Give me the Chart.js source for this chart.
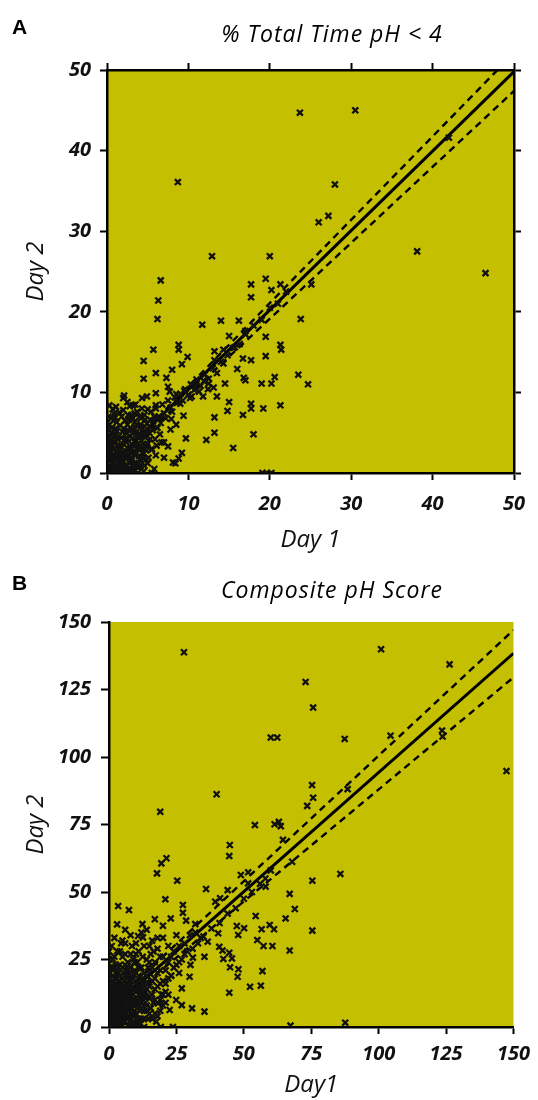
<!DOCTYPE html>
<html>
<head>
<meta charset="utf-8">
<script src="https://cdn.jsdelivr.net/npm/chart.js@4.4.1/dist/chart.umd.min.js"></script>
<style>
    body { margin: 0; background: #fff; }
    .panel { position: absolute; left: 0; width: 538px; }
    #panelA { top: 0; height: 560px; }
    #panelB { top: 560px; height: 540px; }
</style>
</head>
<body>
<div class="panel" id="panelA"><canvas id="chartA" width="538" height="560"></canvas></div>
<div class="panel" id="panelB"><canvas id="chartB" width="538" height="540"></canvas></div>
<script>
// ===== panel A : % total time pH < 4, [day1, day2] =====
const aPoints = [
    // scattered points
    [23.7, 44.7], [8.7, 36.1], [12.9, 26.9], [20.0, 26.9], [30.5, 45.0], [28.0, 35.8], [27.2, 31.9],
    [26.0, 31.1], [38.1, 27.5], [42.0, 41.6], [46.5, 24.8], [25.1, 23.4], [23.8, 19.1], [24.7, 11.0],
    [23.5, 12.2], [6.6, 23.9], [6.3, 21.4], [6.2, 19.1], [17.7, 23.4], [17.7, 21.8], [19.5, 24.1],
    [20.2, 22.7], [21.3, 23.4], [11.7, 18.4], [14.0, 18.9], [16.2, 18.9], [17.0, 17.6], [15.0, 17.0],
    [19.5, 16.9], [8.8, 15.9], [8.8, 15.3], [5.7, 15.3], [13.2, 15.1], [14.3, 15.3], [15.7, 15.6],
    [21.3, 15.9], [21.4, 15.3], [9.9, 14.4], [4.5, 13.9], [9.2, 13.5], [13.2, 14.0], [14.3, 13.6],
    [16.7, 14.2], [17.7, 14.0], [19.5, 14.5], [8.0, 12.8], [6.0, 12.4], [7.3, 11.8], [4.5, 11.7],
    [16.0, 12.9], [16.8, 11.8], [17.0, 11.5], [12.5, 11.1], [14.5, 11.1], [19.0, 11.1], [20.2, 11.1],
    [20.6, 11.9], [7.5, 10.7], [7.7, 10.1], [6.0, 9.9], [13.1, 10.6], [13.5, 9.5], [11.8, 9.5],
    [10.4, 9.5], [2.1, 9.6], [3.2, 8.4], [4.3, 9.3], [4.9, 9.5], [6.0, 8.4], [15.0, 8.8], [14.8, 7.7],
    [17.7, 8.6], [17.7, 8.0], [19.2, 8.0], [21.3, 8.4], [16.7, 7.2], [13.2, 6.9], [9.4, 7.1], [7.9, 6.7],
    [13.2, 5.0], [18.0, 4.8], [12.2, 4.1], [9.7, 4.3], [15.5, 3.1], [6.7, 3.8], [7.5, 3.3], [9.2, 2.5],
    [8.8, 1.8], [8.1, 1.3], [7.0, 1.9], [0.7, 7.9], [0.9, 7.3], [5.5, 0], [19.1, 0], [19.6, 0], [20.2, 0],
    [8.4, 1.2],
    // along the fit line
    [9.5, 10.2], [10.2, 9.3], [10.8, 10.8], [11.3, 10.1], [11.9, 11.4], [12.4, 10.4], [9.0, 8.6], [8.5, 9.8],
    [6.0, 8.0], [6.2, 5.6], [6.4, 7.0], [6.6, 6.2], [6.8, 8.5], [7.0, 7.4], [7.2, 6.8], [7.5, 9.0],
    [7.8, 8.1], [8.0, 7.6], [8.3, 9.4], [8.6, 8.7], [9.0, 9.8], [9.3, 9.0], [9.6, 10.4], [10.0, 9.7],
    [10.3, 11.0], [10.7, 10.3], [11.0, 11.6], [11.5, 10.8], [12.0, 12.2], [12.5, 11.7], [13.0, 13.0],
    [13.5, 12.4], [14.0, 13.8], [14.8, 14.6], [15.5, 15.5], [16.3, 16.0], [17.0, 17.2], [18.0, 18.3],
    [19.0, 19.0], [20.0, 20.5], [21.0, 21.0], [22.0, 22.5],
    // dense cluster near the origin
    [0, 0], [0, 0.5], [0, 1.2], [0, 2], [0, 3], [0, 3.8], [0, 4.5], [0.1, 0.2], [0.2, 0], [0.3, 1.5],
    [0.4, 0.3], [0.5, 0.8], [0.6, 2.2], [0.7, 0.1], [0.8, 1.1], [0.9, 3.1], [1.0, 0.5], [1.1, 1.8],
    [1.2, 2.6], [1.2, 0], [1.3, 4.2], [1.4, 1.2], [1.5, 0.4], [1.6, 3.4], [1.7, 2.0], [1.8, 0.9],
    [1.9, 5.1], [2.0, 1.5], [2.1, 0.2], [2.2, 2.8], [2.3, 3.9], [2.4, 1.0], [2.5, 6.0], [2.6, 2.3],
    [2.7, 0.6], [2.8, 4.6], [2.9, 3.2], [3.0, 1.6], [3.1, 5.4], [3.2, 0.3], [3.3, 2.7], [3.4, 6.3],
    [3.5, 4.0], [3.6, 1.3], [3.7, 3.5], [3.8, 5.8], [3.9, 2.1], [4.0, 4.9], [4.1, 0.8], [4.2, 6.8],
    [4.3, 3.0], [4.4, 5.5], [4.5, 2.4], [4.6, 7.2], [4.7, 4.4], [4.8, 1.7], [4.9, 6.1], [5.0, 3.6],
    [5.2, 5.0], [5.4, 7.6], [5.5, 2.9], [5.7, 6.5], [5.9, 4.2], [1.5, 7.5], [2.5, 8.8], [0.8, 6.5],
    [3.5, 8.5], [2.0, 9.3], [1.0, 5.5], [3.0, 7.2], [0.3, 6.0], [5.5, 3.0], [6.0, 2.2], [5.0, 1.2],
    [6.5, 4.8], [7.0, 3.8], [5.8, 0.5], [4.5, 0.2], [3.8, 0], [3.0, 0], [2.5, 0], [5.2, 5.8], [7.8, 5.4],
    [8.5, 6.0],
    [0.2, 2.5], [0.4, 3.5], [0.5, 5.0], [0.6, 4.0], [0.7, 1.6], [0.8, 2.9], [0.9, 0.6], [1.0, 3.8],
    [1.1, 4.8], [1.2, 1.4], [1.3, 0.2], [1.4, 2.2], [1.5, 3.0], [1.6, 5.9], [1.7, 1.1], [1.8, 4.4],
    [1.9, 2.6], [2.0, 0.3], [2.1, 3.5], [2.2, 6.5], [2.3, 1.8], [2.4, 4.9], [2.5, 2.0], [2.6, 7.2],
    [2.7, 3.0], [2.8, 1.2], [2.9, 5.6], [3.0, 2.5], [3.1, 4.3], [3.2, 6.8], [3.3, 1.0], [3.4, 3.9],
    [3.5, 2.2], [3.6, 5.1], [3.7, 7.6], [3.8, 0.7], [3.9, 4.6], [4.0, 2.9], [4.1, 6.0], [4.2, 1.5],
    [4.3, 8.0], [4.4, 3.6], [4.5, 4.9], [4.6, 0.9], [4.7, 6.6], [4.8, 2.8], [4.9, 5.0], [5.0, 7.9],
    [5.1, 1.9], [5.3, 4.2], [5.6, 5.3], [5.8, 7.0], [6.1, 3.4], [6.3, 6.8], [0.1, 5.5], [0.2, 7.0],
    [0.5, 6.8], [1.2, 6.3], [1.8, 7.0], [0.3, 8.4], [1.1, 8.2], [2.8, 8.3], [0.0, 6.2], [0.6, 0.0],
    [1.7, 0.0], [0.1, 1.8], [0.3, 3.0], [0.1, 4.0], [2.3, 0.9], [3.5, 0.8], [1.6, 1.6], [0.9, 2.2],
    [2.0, 2.2], [2.5, 4.2], [3.0, 3.6], [3.8, 3.0], [4.2, 4.0], [3.3, 5.0], [2.1, 5.5], [1.4, 4.5],
    [0.4, 1.9], [0.6, 5.6], [0.9, 4.4], [1.3, 3.4], [1.6, 0.7], [1.9, 1.9], [2.2, 4.2], [2.4, 0.4],
    [2.6, 5.3], [2.9, 1.9], [3.1, 0.9], [3.3, 3.3], [3.6, 6.0], [3.9, 1.2], [4.1, 3.4], [4.4, 2.0],
    [4.6, 5.8], [0.4, 4.6], [1.0, 6.9], [2.0, 7.8], [1.5, 2.5], [2.7, 6.6], [3.4, 7.4], [4.0, 7.0],
    [0.7, 3.4], [1.2, 5.2], [2.3, 2.4], [3.7, 4.5], [4.9, 3.3], [5.3, 6.6]
];
const aFitX = [0, 50];
const aFitY = [0.5, 49.8];
const aUpperY = [0.4, 52.1];
const aLowerY = [0.3, 47.4];

// ===== panel B : composite pH score, [day1, day2] =====
const bPoints = [
    // scattered points
    [27.8, 138.8], [72.9, 127.8], [75.7, 118.3], [60.0, 107.2], [62.4, 107.2], [39.9, 86.2], [19.0, 79.7],
    [75.3, 89.6], [75.7, 84.9], [73.5, 81.9], [54.1, 74.8], [61.4, 75.1], [63.7, 74.4], [63.0, 76.0],
    [100.9, 139.9], [126.3, 134.3], [87.4, 106.7], [104.4, 107.9], [123.5, 109.8], [123.7, 107.6],
    [147.4, 94.8], [88.5, 88.1], [75.4, 54.2], [85.8, 56.7], [75.4, 35.7], [87.6, 1.6],
    [44.8, 67.4], [44.6, 63.3], [64.5, 69.3], [67.9, 61.2], [21.3, 62.5], [19.4, 60.6], [17.8, 56.9],
    [25.3, 54.2], [36.0, 51.1], [44.0, 50.7], [48.9, 56.3], [51.6, 57.3], [51.6, 53.2], [58.1, 52.0],
    [67.0, 49.3], [68.9, 43.7], [65.5, 40.2], [20.9, 47.3], [39.4, 46.4], [41.2, 47.7], [27.4, 45.2],
    [27.4, 42.3], [3.4, 44.8], [7.4, 43.3], [22.9, 40.2], [17.0, 39.9], [20.0, 37.5], [28.6, 39.4],
    [32.0, 38.1], [12.4, 38.1], [10.8, 33.7], [12.6, 33.2], [40.5, 34.7], [36.6, 31.6], [47.4, 37.4],
    [50.1, 36.6], [47.9, 34.1], [54.4, 41.1], [56.6, 36.2], [59.6, 37.8], [61.2, 36.2], [55.0, 32.2],
    [57.3, 30.0], [60.6, 30.0], [67.0, 28.3], [40.9, 29.7], [42.1, 28.3], [44.6, 27.5], [35.4, 26.0],
    [42.4, 25.2], [45.6, 25.4], [31.1, 25.7], [30.2, 23.0], [44.9, 22.1], [48.0, 21.4], [47.7, 18.6],
    [56.9, 20.7], [56.3, 15.3], [52.3, 14.9], [44.6, 12.7], [29.9, 18.6], [27.0, 14.3], [27.0, 8.1],
    [30.8, 6.9], [35.4, 5.7], [22.5, 6.3], [23.1, 19.0], [18.2, 8.8], [24.9, 10.0], [19.4, 12.0],
    [19.2, 0], [23.7, 0], [67.3, 0.5],
    // along the fit line
    [26, 24], [28, 27], [33, 31], [35, 33.5], [38, 36.5], [41, 38.5], [44, 42], [47, 44], [50, 47.5],
    [53, 50], [56, 53], [58, 55], [60, 58],
    // dense cluster near the origin
    [0, 0], [0, 1], [0, 3], [0, 5], [0, 10], [0, 15], [0, 20], [0, 25], [0.5, 13], [1, 22], [1, 30], [2, 18],
    [0.5, 2], [1, 0.5], [1.5, 4], [2, 1], [2, 7], [2.5, 3], [3, 10], [3, 0], [3.5, 5.5], [4, 2], [4, 14],
    [4.5, 8], [5, 0.5], [5, 4], [5, 18], [5.5, 11], [6, 6], [6, 2], [6.5, 22], [7, 9], [7, 14], [7.5, 3.5],
    [8, 0], [8, 17], [8.5, 7], [9, 12], [9, 25], [9.5, 4.5], [10, 20], [10, 9], [10.5, 1.5], [11, 15],
    [11, 28], [11.5, 6], [12, 11], [12, 22], [12.5, 18], [13, 3], [13, 30], [13.5, 13], [14, 8], [14, 25],
    [14.5, 16], [15, 20], [15, 5], [15.5, 27], [16, 12], [16, 32], [16.5, 9], [17, 18], [17, 24], [17.5, 2],
    [18, 15], [18, 29], [19, 21], [19, 10], [20, 26], [20, 33], [21, 16], [21, 13], [22, 24], [22, 30],
    [23, 19], [24, 28], [25, 23], [25, 34], [26, 30], [27, 25], [28, 31], [29, 28], [30, 34], [31, 29],
    [32, 35], [34, 33], [2, 26], [3, 21], [4, 28], [6, 31], [7, 19], [8, 27], [3, 15], [1, 9], [2, 12],
    [0.5, 7], [1, 12], [1, 17], [1.5, 25], [2, 3], [2, 9], [2.5, 14], [2.5, 20], [3, 5], [3, 28], [3.5, 11],
    [3.5, 17], [4, 0], [4, 7], [4, 23], [4.5, 12], [4.5, 31], [5, 9], [5, 14], [5, 26], [5.5, 2], [5.5, 20],
    [6, 11], [6, 16], [6, 27], [6.5, 5], [6.5, 13], [7, 0.5], [7, 24], [7.5, 8], [7.5, 17], [8, 5], [8, 11],
    [8, 22], [8.5, 14], [8.5, 30], [9, 2], [9, 8], [9, 18], [9.5, 21], [10, 5], [10, 13], [10, 27], [10.5, 10],
    [10.5, 24], [11, 3], [11, 19], [11.5, 12], [12, 7], [12, 16], [12.5, 26], [13, 0], [13, 20], [13.5, 9],
    [14, 14], [14, 19], [14.5, 3], [15, 11], [15, 24], [15.5, 7], [16, 17], [16, 22], [16.5, 28], [17, 5],
    [17, 14], [18, 9], [18, 20], [19, 6], [19, 26], [20, 12], [20, 17], [21, 21], [21, 9], [22, 18],
    [0, 8], [0, 12], [0, 18], [0, 22], [0, 28], [1, 4], [1, 14], [1.5, 9], [2, 15], [2, 22], [3, 3], [3, 13],
    [3, 18], [4, 10], [4, 17], [5, 6], [6, 8], [6, 19], [7, 3], [7, 12], [7, 21], [8, 8], [9, 15], [10, 1],
    [11, 9], [12, 3], [12, 14], [13, 11], [14, 6], [15, 15], [16, 3], [17, 10], [18, 4], [19, 16], [20, 8],
    [22, 12], [23, 26], [24, 22], [26, 20], [5, 32], [8, 34], [12, 35], [15, 30], [18, 33], [6, 36],
    [10, 31], [2, 33], [3, 38], [14, 36],
    [0.5, 4.5], [0.5, 10], [0.5, 16], [0.5, 20], [1, 2.5], [1, 7], [1.5, 11], [1.5, 14], [1.5, 19],
    [2, 5], [2, 11], [2.5, 1.5], [2.5, 8], [2.5, 16], [2.5, 23], [3, 7.5], [3, 12], [3.5, 2], [3.5, 8.5],
    [3.5, 14], [3.5, 20], [4, 4.5], [4, 12], [4, 19], [4.5, 1], [4.5, 5.5], [4.5, 10], [4.5, 16],
    [5, 2], [5, 11.5], [5, 22], [5.5, 7], [5.5, 15], [6, 4], [6, 13.5], [6, 23], [6.5, 9], [6.5, 18],
    [7, 6], [7, 16], [7.5, 11], [7.5, 20], [8, 2.5], [8, 14], [8.5, 9.5], [8.5, 19], [9, 5], [9, 10.5],
    [9.5, 14], [9.5, 24], [10, 3], [10, 16], [10.5, 7], [11, 12], [11, 22], [11.5, 1], [12, 9], [12.5, 13],
    [13, 6], [13, 16], [14, 11], [14.5, 22]
];
const bFitX = [0, 150];
const bFitY = [6, 138.4];
const bUpperY = [7.5, 147];
const bLowerY = [5, 129.5];

const plotColor = '#c4bf00';
const tickFont = { family: 'Open Sans', size: 20, style: 'italic', weight: 'bold' };
const titleFont = { family: 'Open Sans', size: 24, style: 'italic' };

// fill the plot area
const plotBg = {
    id: 'plotBg',
    beforeDraw(chart) {
        const { ctx, chartArea: a } = chart;
        ctx.save();
        ctx.fillStyle = plotColor;
        ctx.fillRect(a.left, a.top, a.width, a.height);
        ctx.restore();
    }
};

// panel letter + heading
const panelText = {
    id: 'panelText',
    afterDraw(chart, args, opts) {
        const ctx = chart.ctx;
        ctx.save();
        ctx.fillStyle = '#000';
        ctx.font = 'bold 21px "Liberation Sans"';
        ctx.textAlign = 'left';
        ctx.textBaseline = 'alphabetic';
        ctx.fillText(opts.letter, 12, opts.letterY);
        ctx.font = 'italic 23px "Open Sans"';
        ctx.letterSpacing = '1px';
        ctx.textAlign = 'center';
        ctx.fillText(opts.title, 332, opts.titleY);
        ctx.letterSpacing = '0px';
        ctx.restore();
    }
};

function lineSet(xs, ys, dashed) {
    return {
        data: xs.map((x, i) => ({ x: x, y: ys[i] })),
        showLine: true,
        pointRadius: 0,
        borderColor: '#000',
        borderWidth: dashed ? 2.4 : 3,
        borderDash: dashed ? [7, 5] : [],
        fill: false
    };
}

function axis(pos, max, step, size, extra) {
    return Object.assign({
        type: 'linear',
        position: pos,
        min: 0,
        max: max,
        afterFit(s) {
            if (pos === 'left' || pos === 'right') s.width = size;
            else s.height = size;
        },
        border: { display: true, color: '#000', width: 2.5 },
        grid: { drawOnChartArea: false, drawTicks: true, tickLength: 7, tickColor: '#000', tickWidth: 2 },
        ticks: { stepSize: step, color: '#111', font: tickFont, padding: 9 }
    }, extra);
}

function renderPanel(id, cfg) {
    const ctx = document.getElementById(id).getContext('2d');
    const scales = {
        x: axis('bottom', cfg.max, cfg.step, cfg.bottom, {
            title: { display: true, text: cfg.xTitle, color: '#111', font: titleFont, padding: { top: 0, bottom: cfg.xTitlePad } },
            ticks: { stepSize: cfg.step, color: '#111', font: tickFont, padding: cfg.xTickPad, maxRotation: 0 }
        }),
        y: axis('left', cfg.max, cfg.step, cfg.left, {
            title: { display: true, text: 'Day 2', color: '#111', font: titleFont, padding: { top: 22, bottom: 0 } },
            grid: { drawOnChartArea: false, drawTicks: true, tickLength: cfg.yTick, tickColor: '#000', tickWidth: 2 },
            ticks: { stepSize: cfg.step, color: '#111', font: tickFont, padding: cfg.yTickPad }
        })
    };
    if (cfg.mirror) {
        scales.x2 = axis('top', cfg.max, cfg.step, cfg.top, { ticks: { display: false, stepSize: cfg.step } });
        scales.y2 = axis('right', cfg.max, cfg.step, cfg.right, { ticks: { display: false, stepSize: cfg.step } });
    }

    new Chart(ctx, {
        type: 'scatter',
        data: {
            datasets: [
                {
                    data: cfg.points.map(p => ({ x: p[0], y: p[1] })),
                    pointStyle: 'crossRot',
                    pointRadius: 4.2,
                    pointBorderWidth: 2.3,
                    borderColor: '#111',
                    backgroundColor: '#111'
                },
                lineSet(cfg.fitX, cfg.fitY, false),
                lineSet(cfg.fitX, cfg.upperY, true),
                lineSet(cfg.fitX, cfg.lowerY, true)
            ]
        },
        options: {
            responsive: false,
            animation: false,
            layout: { padding: cfg.padding },
            plugins: {
                legend: { display: false },
                tooltip: { enabled: false },
                panelText: { letter: cfg.letter, letterY: cfg.letterY, title: cfg.title, titleY: cfg.titleY }
            },
            scales: scales
        },
        plugins: [plotBg, panelText]
    });
}

renderPanel('chartA', {
    points: aPoints, fitX: aFitX, fitY: aFitY, upperY: aUpperY, lowerY: aLowerY,
    max: 50, step: 10, mirror: true,
    left: 107, right: 24, top: 70, bottom: 87,
    padding: { top: 0, right: 0, bottom: 0, left: 0 },
    xTitle: 'Day 1', xTitlePad: 5, xTickPad: 12, yTick: 7, yTickPad: 9,
    letter: 'A', letterY: 34, title: '% Total Time pH < 4', titleY: 42
});

renderPanel('chartB', {
    points: bPoints, fitX: bFitX, fitY: bFitY, upperY: bUpperY, lowerY: bLowerY,
    max: 150, step: 25, mirror: false,
    left: 109, bottom: 73,
    padding: { top: 62, right: 22, bottom: 0, left: 0 },
    xTitle: 'Day1', xTitlePad: 0, xTickPad: 8, yTick: 8, yTickPad: 10,
    letter: 'B', letterY: 30, title: 'Composite pH Score', titleY: 38
});
</script>
</body>
</html>
